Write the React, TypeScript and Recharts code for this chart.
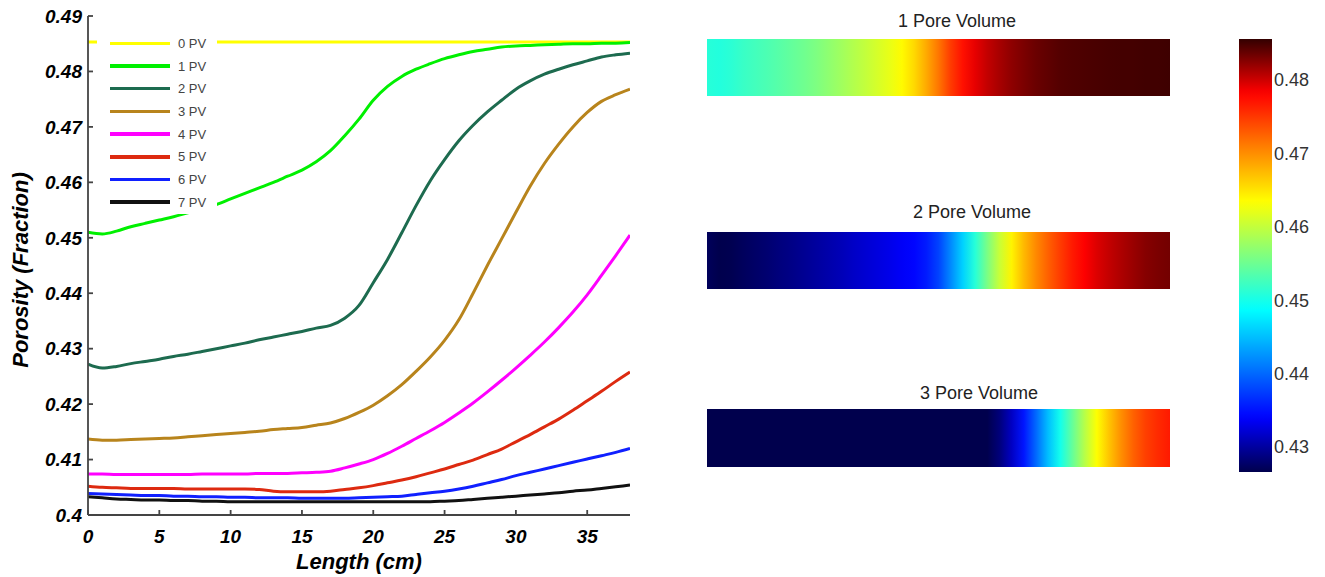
import React from 'react';
import { LineChart, Line, XAxis, YAxis, Legend, BarChart, Bar } from 'recharts';

// ---------- data ----------
const xs = [0, 1, 2, 3, 4, 5, 6, 7, 8, 9, 10, 11, 12, 13, 14, 15, 16, 17, 18, 19, 20, 21, 22, 23, 24, 25, 26, 27, 28, 29, 30, 31, 32, 33, 34, 35, 36, 37, 38];

const pv0 = [0.4853, 0.4853, 0.4853, 0.4853, 0.4853, 0.4853, 0.4853, 0.4853, 0.4853, 0.4853, 0.4853, 0.4853, 0.4853, 0.4853, 0.4853, 0.4853, 0.4853, 0.4853, 0.4853, 0.4853, 0.4853, 0.4853, 0.4853, 0.4853, 0.4853, 0.4853, 0.4853, 0.4853, 0.4853, 0.4853, 0.4853, 0.4853, 0.4853, 0.4853, 0.4853, 0.4853, 0.4853, 0.4853, 0.4853];
const pv1 = [0.4510, 0.4507, 0.4512, 0.4520, 0.4526, 0.4532, 0.4538, 0.4545, 0.4552, 0.4560, 0.4570, 0.4580, 0.4590, 0.4600, 0.4611, 0.4622, 0.4637, 0.4657, 0.4684, 0.4714, 0.4748, 0.4773, 0.4791, 0.4804, 0.4814, 0.4823, 0.4830, 0.4836, 0.4840, 0.4844, 0.4846, 0.4847, 0.4848, 0.4849, 0.4850, 0.4850, 0.4851, 0.4851, 0.4852];
const pv2 = [0.4272, 0.4265, 0.4268, 0.4273, 0.4277, 0.4281, 0.4286, 0.4290, 0.4295, 0.4300, 0.4305, 0.4310, 0.4316, 0.4321, 0.4326, 0.4331, 0.4337, 0.4342, 0.4355, 0.4378, 0.4419, 0.4461, 0.4509, 0.4558, 0.4603, 0.4641, 0.4675, 0.4703, 0.4727, 0.4748, 0.4768, 0.4783, 0.4795, 0.4804, 0.4812, 0.4819, 0.4826, 0.4830, 0.4833];
const pv3 = [0.4137, 0.4135, 0.4135, 0.4136, 0.4137, 0.4138, 0.4139, 0.4141, 0.4143, 0.4145, 0.4147, 0.4149, 0.4151, 0.4154, 0.4156, 0.4158, 0.4162, 0.4166, 0.4174, 0.4185, 0.4198, 0.4215, 0.4235, 0.4259, 0.4285, 0.4315, 0.4352, 0.4400, 0.4450, 0.4498, 0.4546, 0.4593, 0.4634, 0.4669, 0.4700, 0.4726, 0.4746, 0.4758, 0.4768];
const pv4 = [0.4074, 0.4074, 0.4073, 0.4073, 0.4073, 0.4073, 0.4073, 0.4073, 0.4074, 0.4074, 0.4074, 0.4074, 0.4075, 0.4075, 0.4075, 0.4076, 0.4077, 0.4079, 0.4085, 0.4092, 0.4100, 0.4111, 0.4124, 0.4138, 0.4152, 0.4167, 0.4184, 0.4202, 0.4222, 0.4243, 0.4265, 0.4288, 0.4312, 0.4338, 0.4366, 0.4397, 0.4432, 0.4468, 0.4505];
const pv5 = [0.4052, 0.4050, 0.4049, 0.4048, 0.4048, 0.4048, 0.4048, 0.4047, 0.4047, 0.4047, 0.4047, 0.4047, 0.4046, 0.4043, 0.4042, 0.4042, 0.4042, 0.4043, 0.4046, 0.4049, 0.4053, 0.4058, 0.4063, 0.4069, 0.4076, 0.4083, 0.4091, 0.4099, 0.4109, 0.4119, 0.4132, 0.4145, 0.4159, 0.4173, 0.4189, 0.4206, 0.4223, 0.4241, 0.4258];
const pv6 = [0.4039, 0.4038, 0.4037, 0.4036, 0.4035, 0.4035, 0.4034, 0.4034, 0.4033, 0.4033, 0.4032, 0.4032, 0.4031, 0.4031, 0.4031, 0.4030, 0.4030, 0.4030, 0.4030, 0.4031, 0.4032, 0.4033, 0.4034, 0.4037, 0.4040, 0.4043, 0.4047, 0.4052, 0.4058, 0.4064, 0.4071, 0.4077, 0.4083, 0.4089, 0.4095, 0.4101, 0.4107, 0.4113, 0.4120];
const pv7 = [0.4033, 0.4031, 0.4029, 0.4028, 0.4027, 0.4027, 0.4026, 0.4026, 0.4025, 0.4025, 0.4024, 0.4024, 0.4024, 0.4024, 0.4024, 0.4024, 0.4024, 0.4024, 0.4024, 0.4024, 0.4024, 0.4024, 0.4024, 0.4024, 0.4024, 0.4025, 0.4026, 0.4028, 0.4030, 0.4032, 0.4034, 0.4036, 0.4038, 0.4040, 0.4043, 0.4045, 0.4048, 0.4051, 0.4054];

const seriesNames = ['0 PV', '1 PV', '2 PV', '3 PV', '4 PV', '5 PV', '6 PV', '7 PV'];
const seriesColors = ['#ffff00', '#00f000', '#1d6b4f', '#b8841c', '#ff00ff', '#dd2a10', '#1020ff', '#111111'];
const seriesValues = [pv0, pv1, pv2, pv3, pv4, pv5, pv6, pv7];

const xTicks = [0, 5, 10, 15, 20, 25, 30, 35];
const xDomain = [0, 38];
const yTicks = [0.4, 0.41, 0.42, 0.43, 0.44, 0.45, 0.46, 0.47, 0.48, 0.49];
const yDomain = [0.4, 0.49];

const stripTitles = ['1 Pore Volume', '2 Pore Volume', '3 Pore Volume'];
const stripValues = [pv1, pv2, pv3];

const cbRange = [0.4266, 0.4856];
const cbTicks = [0.43, 0.44, 0.45, 0.46, 0.47, 0.48];

// ---------- helpers ----------
const FONT = '"Liberation Sans", Arial, Helvetica, sans-serif';

const chartData = xs.map((x, i) => {
  const row: Record<string, number> = { x };
  seriesValues.forEach((vals, s) => {
    row['pv' + s] = vals[i];
  });
  return row;
});

function jet(t: number): string {
  const u = Math.max(0, Math.min(1, t));
  let r = 0, g = 0, b = 0;
  if (u < 0.125) {
    b = 0.3 + 0.7 * (u / 0.125);
  } else if (u < 0.375) {
    g = (u - 0.125) / 0.25;
    b = 1;
  } else if (u < 0.625) {
    r = (u - 0.375) / 0.25;
    g = 1;
    b = 1 - r;
  } else if (u < 0.875) {
    r = 1;
    g = 1 - (u - 0.625) / 0.25;
  } else {
    r = 1 - 0.8 * ((u - 0.875) / 0.125);
  }
  return `rgb(${Math.round(r * 255)},${Math.round(g * 255)},${Math.round(b * 255)})`;
}

const norm = (v: number) => (v - cbRange[0]) / (cbRange[1] - cbRange[0]);

const tickStyle = { fontSize: 19, fontWeight: 'bold', fontStyle: 'italic', fill: '#000', fontFamily: FONT };
const frame = { stroke: '#444', strokeWidth: 1.8 };

const renderLegend = (props: any) => {
  const payload = props.payload || [];
  return (
    <div style={{ background: '#fff', fontFamily: FONT }}>
      {payload.map((p: any) => (
        <div key={p.value} style={{ display: 'flex', alignItems: 'center', height: 22.7 }}>
          <div style={{ marginLeft: 13, width: 60, height: 3.5, background: p.color }} />
          <span style={{ marginLeft: 8, fontSize: 13, color: '#444', lineHeight: '13px' }}>{p.value}</span>
        </div>
      ))}
    </div>
  );
};

const XLabel = (props: any) => {
  const vb = props.viewBox;
  return (
    <text x={vb.x + vb.width / 2} y={569} textAnchor="middle" fontSize={22} fontWeight="bold" fontStyle="italic" fontFamily={FONT} fill="#000">
      Length (cm)
    </text>
  );
};

const YLabel = (props: any) => {
  const cx = 20;
  const cy = 270;
  return (
    <text x={cx} y={cy} transform={`rotate(-90 ${cx} ${cy})`} textAnchor="middle" dominantBaseline="central" fontSize={22} fontWeight="bold" fontStyle="italic" fontFamily={FONT} fill="#000">
      Porosity (Fraction)
    </text>
  );
};

function MainChart() {
  return (
    <div style={{ position: 'absolute', left: 0, top: 0 }}>
      <LineChart width={640} height={577} data={chartData} margin={{ top: 16, right: 10, left: 0, bottom: 0 }}>
        <XAxis
          dataKey="x"
          type="number"
          domain={xDomain}
          ticks={xTicks}
          allowDataOverflow
          height={62}
          tickSize={-5}
          tickMargin={20}
          tick={tickStyle}
          axisLine={frame}
          tickLine={frame}
          label={<XLabel />}
        />
        <XAxis
          xAxisId="top"
          dataKey="x"
          type="number"
          orientation="top"
          domain={xDomain}
          ticks={xTicks}
          allowDataOverflow
          height={0}
          tickSize={-5}
          tick={false}
          axisLine={frame}
          tickLine={frame}
        />
        <YAxis
          type="number"
          domain={yDomain}
          ticks={yTicks}
          allowDataOverflow
          width={88}
          tickSize={-5}
          tickMargin={11}
          tick={tickStyle}
          axisLine={frame}
          tickLine={frame}
          label={<YLabel />}
        />
        <YAxis
          yAxisId="right"
          type="number"
          orientation="right"
          domain={yDomain}
          ticks={yTicks}
          allowDataOverflow
          width={0}
          tickSize={-5}
          tick={false}
          axisLine={frame}
          tickLine={frame}
        />
        {seriesNames.map((name, s) => (
          <Line
            key={name}
            name={name}
            dataKey={'pv' + s}
            xAxisId={s === 0 ? 'top' : 0}
            yAxisId={s === 0 ? 'right' : 0}
            type="monotone"
            stroke={seriesColors[s]}
            strokeWidth={3}
            dot={false}
            activeDot={false}
            isAnimationActive={false}
          />
        ))}
        <Legend
          layout="vertical"
          align="center"
          verticalAlign="middle"
          content={renderLegend}
          wrapperStyle={{ left: 97, top: 32, width: 120, height: 182 }}
        />
      </LineChart>
    </div>
  );
}

const stripTop = [0, 190, 370];
const stripAxisH = [39, 42, 39];
const stripPlotH = [57, 57, 58];
const stripTitleX = [250, 265, 272];
const stripTitleY = [26.5, 27.5, 28.5];

function Strip({ idx }: { idx: number }) {
  const vals = stripValues[idx];
  const id = 'stripGrad' + idx;
  const title = stripTitles[idx];
  const TitleLabel = () => (
    <text x={stripTitleX[idx]} y={stripTitleY[idx]} textAnchor="middle" fontSize={18} fontFamily={FONT} fill="#222">
      {title}
    </text>
  );
  return (
    <div style={{ position: 'absolute', left: 707, top: stripTop[idx] }}>
      <BarChart
        width={463}
        height={stripAxisH[idx] + stripPlotH[idx]}
        data={[{ name: title, len: xDomain[1] }]}
        layout="vertical"
        margin={{ top: 0, right: 0, left: 0, bottom: 0 }}
        barCategoryGap={0}
      >
        <defs>
          <linearGradient id={id} x1="0" y1="0" x2="1" y2="0">
            {xs.map((x, i) => (
              <stop key={x} offset={`${(x / xDomain[1]) * 100}%`} stopColor={jet(norm(vals[i]))} />
            ))}
          </linearGradient>
        </defs>
        <XAxis
          type="number"
          orientation="top"
          domain={xDomain}
          allowDataOverflow
          height={stripAxisH[idx]}
          tick={false}
          tickLine={false}
          axisLine={false}
          label={<TitleLabel />}
        />
        <YAxis type="category" dataKey="name" hide />
        <Bar dataKey="len" fill={`url(#${id})`} isAnimationActive={false} />
      </BarChart>
    </div>
  );
}

function ColorBar() {
  const n = 60;
  const stops = [];
  for (let i = 0; i < n; i++) {
    const f = i / (n - 1);
    stops.push(<stop key={i} offset={`${f * 100}%`} stopColor={jet(1 - f)} />);
  }
  return (
    <div style={{ position: 'absolute', left: 1239, top: 39 }}>
      <BarChart
        width={33 + 60}
        height={433}
        data={[{ name: 'cb', range: cbRange }]}
        margin={{ top: 0, right: 0, left: 0, bottom: 0 }}
        barCategoryGap={0}
      >
        <defs>
          <linearGradient id="cbGrad" x1="0" y1="0" x2="0" y2="1">
            {stops}
          </linearGradient>
        </defs>
        <XAxis dataKey="name" hide />
        <YAxis
          orientation="right"
          type="number"
          domain={cbRange}
          ticks={cbTicks}
          allowDataOverflow
          width={60}
          tickLine={false}
          axisLine={false}
          tickSize={0}
          tickMargin={2}
          tick={{ fontSize: 18, fill: '#333', fontFamily: FONT, textAnchor: 'start' }}
        />
        <Bar dataKey="range" fill="url(#cbGrad)" isAnimationActive={false} />
      </BarChart>
    </div>
  );
}

export default function App() {
  return (
    <div style={{ position: 'absolute', left: 0, top: 0, width: 1325, height: 577, background: '#fff', fontFamily: FONT }}>
      <MainChart />
      <Strip idx={0} />
      <Strip idx={1} />
      <Strip idx={2} />
      <ColorBar />
    </div>
  );
}
